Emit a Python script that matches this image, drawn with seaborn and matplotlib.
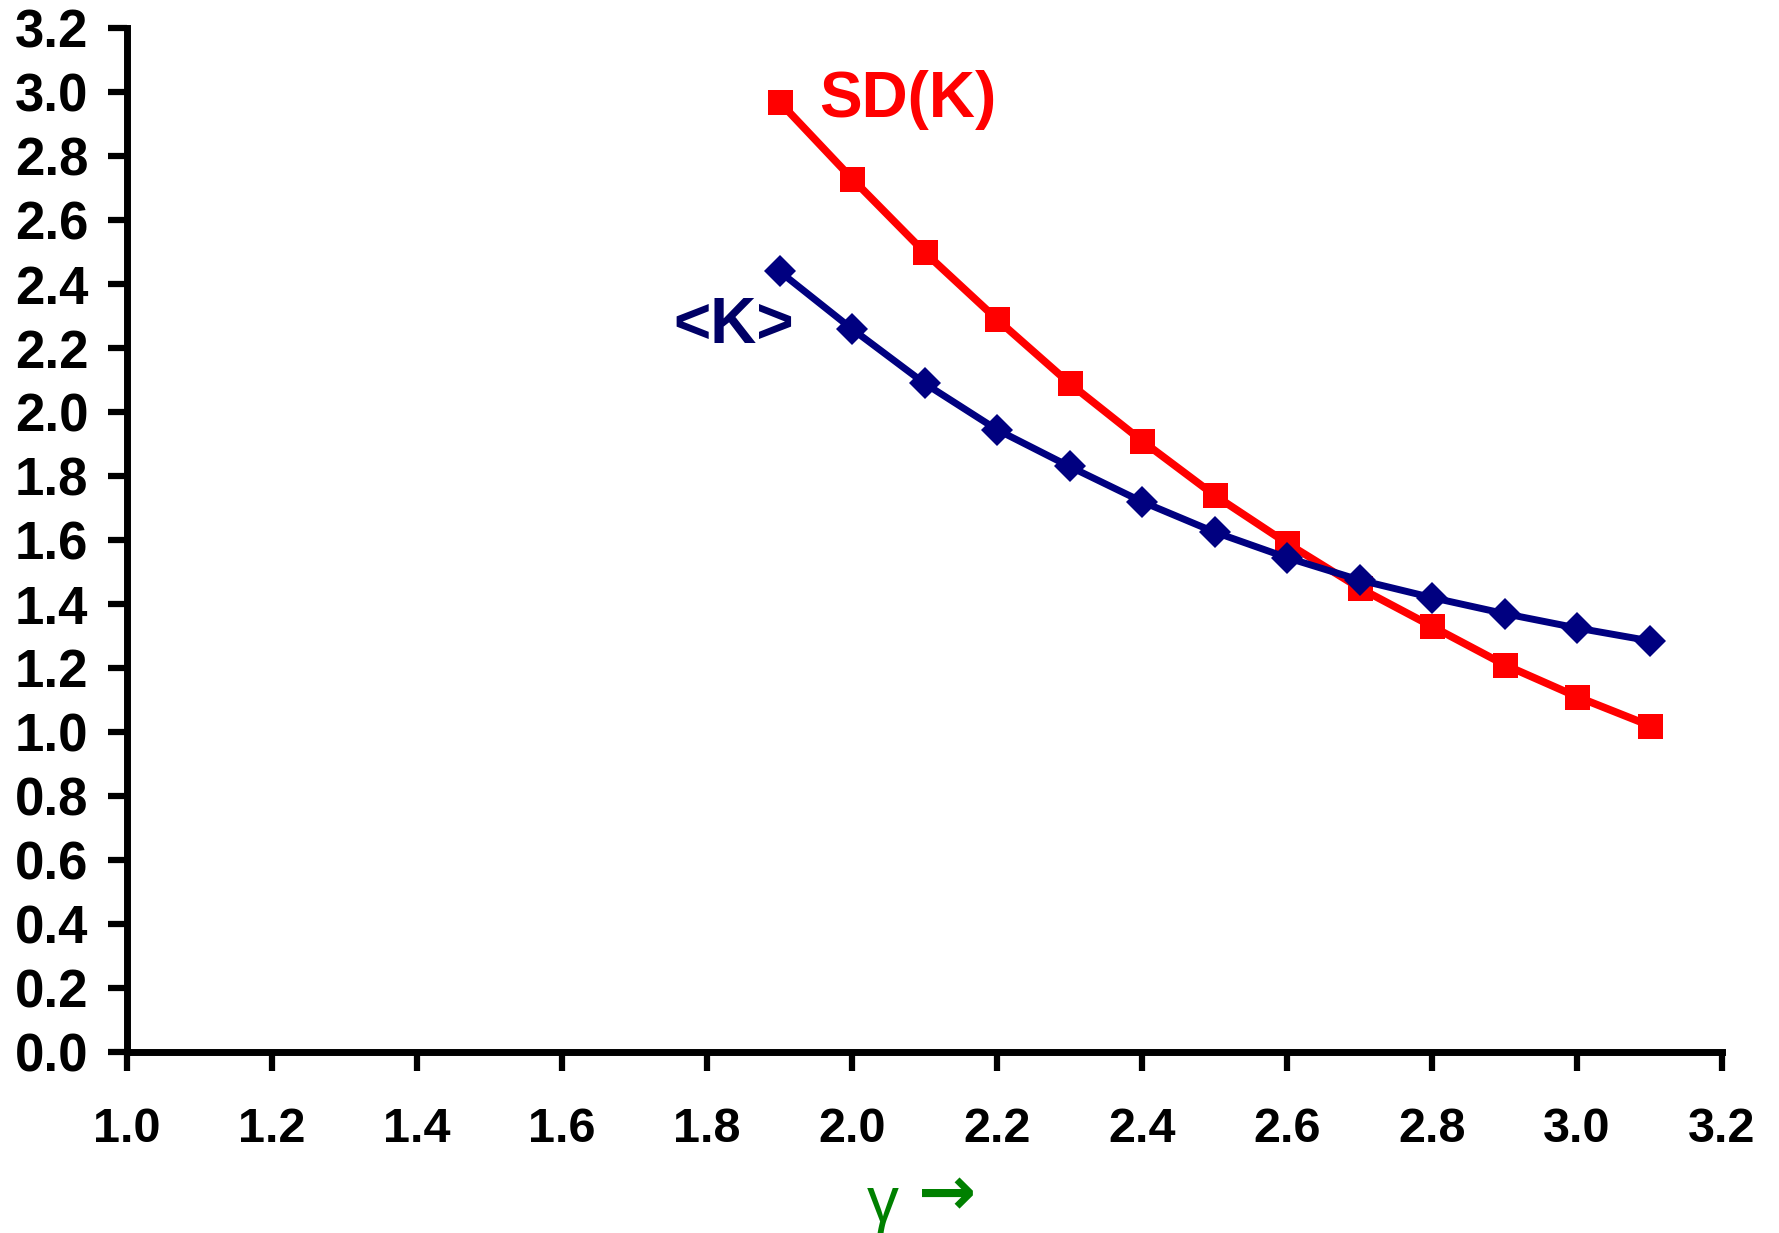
import matplotlib
matplotlib.use("Agg")
import matplotlib.pyplot as plt
import seaborn as sns
import pandas as pd

gamma = [1.9, 2.0, 2.1, 2.2, 2.3, 2.4, 2.5, 2.6, 2.7, 2.8, 2.9, 3.0, 3.1]
mean_k = [2.44, 2.26, 2.09, 1.945, 1.83, 1.72, 1.625, 1.545, 1.475, 1.42, 1.37, 1.325, 1.285]
sd_k = [2.97, 2.73, 2.50, 2.29, 2.09, 1.91, 1.74, 1.59, 1.45, 1.33, 1.21, 1.11, 1.02]
xticks = [1.0, 1.2, 1.4, 1.6, 1.8, 2.0, 2.2, 2.4, 2.6, 2.8, 3.0, 3.2]
yticks = [0.0, 0.2, 0.4, 0.6, 0.8, 1.0, 1.2, 1.4, 1.6, 1.8, 2.0, 2.2, 2.4, 2.6, 2.8, 3.0, 3.2]

sns.set_theme(style="white")
plt.rcParams['font.family'] = ['Liberation Sans', 'DejaVu Sans']

fig = plt.figure(figsize=(17.79, 12.33), dpi=100)
ax = fig.add_axes([0.0714, 0.147, 0.8966, 0.83])

df_k = pd.DataFrame({"gamma": gamma, "val": mean_k})
df_sd = pd.DataFrame({"gamma": gamma, "val": sd_k})

sns.lineplot(data=df_k, x="gamma", y="val", ax=ax, color="#000080", linewidth=5,
             marker="D", markersize=16, markeredgewidth=0, zorder=3)
sns.lineplot(data=df_sd, x="gamma", y="val", ax=ax, color="#FF0000", linewidth=5.5,
             marker="s", markersize=18, markeredgewidth=0, zorder=2)

ax.set_xlim(1.0, 3.2)
ax.set_ylim(0.0, 3.2)
ax.set_xticks(xticks)
ax.set_yticks(yticks)
ax.set_xticklabels([f"{t:.1f}" for t in xticks], fontsize=35, fontweight="bold", color="black")
ax.set_yticklabels([f"{t:.1f}" for t in yticks], fontsize=38, fontweight="bold", color="black")
ax.tick_params(axis="both", direction="out", length=14, width=4.5, color="black", left=True, bottom=True)
ax.tick_params(axis="x", pad=26)
ax.tick_params(axis="y", pad=14)
for s in ["top", "right"]:
    ax.spines[s].set_visible(False)
for s in ["left", "bottom"]:
    ax.spines[s].set_linewidth(5)
    ax.spines[s].set_color("black")
ax.set_xlabel("γ", fontsize=46, color="#008000", labelpad=16)
ax.xaxis.label.set_x(0.4736)
ax.set_ylabel("")
fig.text(0.5325, 0.030, "→", fontsize=50, fontweight="bold", color="#008000",
         ha="center", va="center", family=["DejaVu Sans"])

ax.text(1.954, 2.975, "SD(K)", fontsize=46, fontweight="bold", color="#FF0000", va="center", ha="left")
ax.text(1.92, 2.27, "<K>", fontsize=46, fontweight="bold", color="#000066", va="center", ha="right")

fig.savefig("out.png", dpi=100, facecolor="white")
